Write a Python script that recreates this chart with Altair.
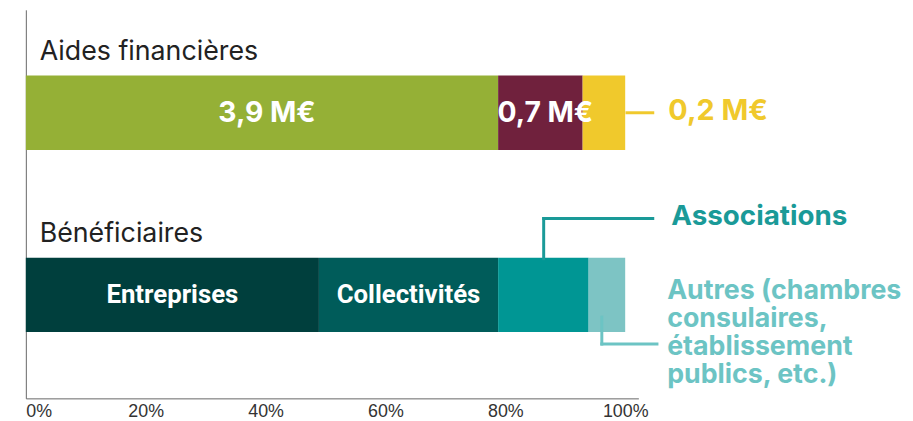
import altair as alt
import pandas as pd

# ---- data ----
rows = ["Aides financières", "Bénéficiaires"]
row_pos = [0, 1]

aides_labels = ["3,9 M€", "0,7 M€", "0,2 M€"]
aides_share = [78.8, 14.1, 7.1]          # % of bar
aides_colors = ["#95b036", "#70213d", "#f0c92c"]
aides_inside = [True, True, False]

benef_labels = ["Entreprises", "Collectivités", "Associations",
                "Autres (chambres\nconsulaires,\nétablissement\npublics, etc.)"]
benef_share = [48.9, 29.9, 15.1, 6.1]
benef_colors = ["#003f3d", "#005c5a", "#009694", "#7dc4c4"]
benef_inside = [True, True, False, False]

ticks = [0, 20, 40, 60, 80, 100]

# ---- build tables ----
seg = []
for pos, labels, shares, colors, inside in [
    (row_pos[0], aides_labels, aides_share, aides_colors, aides_inside),
    (row_pos[1], benef_labels, benef_share, benef_colors, benef_inside),
]:
    start = 0.0
    for lab, s, c, ins in zip(labels, shares, colors, inside):
        seg.append(dict(pos=pos, label=lab, start=start, end=start + s,
                        mid=start + s / 2, color=c, inside=ins))
        start += s
seg = pd.DataFrame(seg)

titles = pd.DataFrame(dict(row=rows, pos=row_pos))

# leader lines (x in %, y in row units)
leaders = pd.DataFrame([
    dict(x=100.3, x2=104.6, y=0.0, y2=0.0, color="#f0c92c"),
    dict(x=86.4, x2=86.4, y=0.801, y2=0.581, color="#1a9a98"),
    dict(x=86.4, x2=104.6, y=0.581, y2=0.581, color="#1a9a98"),
    dict(x=96.1, x2=96.1, y=1.122, y2=1.270, color="#6cc4c4"),
    dict(x=96.1, x2=105.3, y=1.270, y2=1.270, color="#6cc4c4"),
])

annot = pd.DataFrame([
    dict(text="0,2 M€", x=107.2, y=0.0, color="#f0c92c", size=29),
    dict(text="Associations", x=107.7, y=0.581, color="#1a9a98", size=28),
])
annot_multi = pd.DataFrame([
    dict(text=benef_labels[3], x=107.0, y=1.02, color="#6cc4c4"),
])

xscale = alt.Scale(domain=[0, 102.2], nice=False)
yscale = alt.Scale(domain=[-0.538, 1.541], reverse=True)

xenc = alt.X("start:Q", scale=xscale,
             axis=alt.Axis(values=ticks, labelExpr="datum.value + '%'", ticks=False,
                           grid=False, domainColor="#666666", domainWidth=1,
                           labelFont="Liberation Sans", labelFontSize=18,
                           labelColor="#333333", labelPadding=4, title=None))
yenc = alt.Y("pos:Q", scale=yscale,
             axis=alt.Axis(labels=False, ticks=False, grid=False, title=None,
                           domainColor="#666666", domainWidth=1))

bars = alt.Chart(seg).mark_bar(size=75, orient="horizontal").encode(
    x=xenc, x2="end:Q", y=yenc,
    color=alt.Color("color:N", scale=None),
)

inl = seg[seg["inside"]]
lab_aides = alt.Chart(inl[inl["pos"] == 0]).mark_text(
    font="Inter", fontWeight="bold", fontSize=28.5, color="white", baseline="middle", dx=5
).encode(x=alt.X("mid:Q", scale=xscale), y=alt.Y("pos:Q", scale=yscale), text="label:N")

lab_benef = alt.Chart(inl[inl["pos"] == 1]).mark_text(
    font="Roboto", fontWeight="bold", fontSize=26, color="white", baseline="middle"
).encode(x=alt.X("mid:Q", scale=xscale), y=alt.Y("pos:Q", scale=yscale), text="label:N")

title_txt = alt.Chart(titles).mark_text(
    font="Inter", fontSize=27, color="#222222", align="left", baseline="alphabetic",
    dx=14, dy=-53.5
).encode(x=alt.datum(0), y=alt.Y("pos:Q", scale=yscale), text="row:N")

rules = alt.Chart(leaders).mark_rule(strokeWidth=3, strokeCap="square").encode(
    x=alt.X("x:Q", scale=xscale), x2="x2:Q",
    y=alt.Y("y:Q", scale=yscale), y2="y2:Q",
    color=alt.Color("color:N", scale=None),
)

ann = alt.Chart(annot).mark_text(
    font="Inter", fontWeight="bold", align="left", baseline="middle", dy=-2
).encode(x=alt.X("x:Q", scale=xscale), y=alt.Y("y:Q", scale=yscale), text="text:N",
         size=alt.Size("size:Q", scale=None),
         color=alt.Color("color:N", scale=None))

ann2 = alt.Chart(annot_multi).mark_text(
    font="Inter", fontWeight="bold", fontSize=27, align="left", baseline="alphabetic",
    lineBreak="\n", lineHeight=28.5
).encode(x=alt.X("x:Q", scale=xscale), y=alt.Y("y:Q", scale=yscale), text="text:N",
         color=alt.Color("color:N", scale=None))

chart = alt.layer(bars, lab_aides, lab_benef, title_txt, rules, ann, ann2).properties(
    width=618, height=392,
    padding={"left": 18, "top": 0, "right": 269, "bottom": 22},
    autosize="none",
).configure_view(stroke=None)

chart.save("out.html", embed_options={"renderer": "svg", "actions": False})
